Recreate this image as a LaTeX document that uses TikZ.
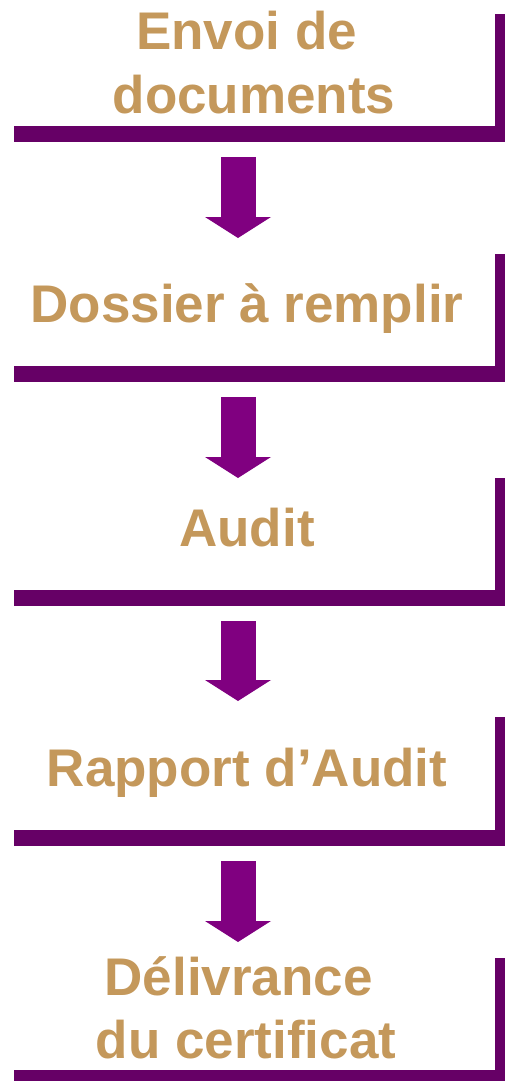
\documentclass[tikz,border=0pt]{standalone}
\usepackage{fontspec}
\setmainfont{Liberation Sans}
\usetikzlibrary{arrows.meta,positioning}

\definecolor{barpurple}{HTML}{660066}
\definecolor{arrowpurple}{HTML}{800080}
\definecolor{tan}{HTML}{C4985B}

\begin{document}
\begin{tikzpicture}[x=1pt, y=1pt]

    \tikzstyle{stage}=[minimum width=481pt, inner sep=0pt, outer sep=0pt];
    \tikzstyle{title}=[text=tan, font=\fontsize{53}{63}\selectfont\bfseries, align=center, inner sep=0pt];
    \tikzstyle{flow}=[draw=arrowpurple, line width=35pt, -{Triangle[width=66pt, length=21pt, line width=0pt]}];

    \useasboundingbox (0,0) rectangle (505,-1081);

    \node[stage, minimum height=112pt] (envoi) at (254.5,-70) {};
    \node[stage, minimum height=112pt] (dossier) at (254.5,-310) {};
    \node[stage, minimum height=112pt] (audit) at (254.5,-534) {};
    \node[stage, minimum height=113pt] (rapport) at (254.5,-773.5) {};
    \node[stage, minimum height=112pt] (delivrance) at (254.5,-1014) {};

    \fill[barpurple] (envoi.south west) rectangle ([shift={(10,-16)}]envoi.south east);
    \fill[barpurple] (envoi.north east) rectangle ([xshift=10pt]envoi.south east);
    \fill[barpurple] (dossier.south west) rectangle ([shift={(10,-16)}]dossier.south east);
    \fill[barpurple] (dossier.north east) rectangle ([xshift=10pt]dossier.south east);
    \fill[barpurple] (audit.south west) rectangle ([shift={(10,-16)}]audit.south east);
    \fill[barpurple] (audit.north east) rectangle ([xshift=10pt]audit.south east);
    \fill[barpurple] (rapport.south west) rectangle ([shift={(10,-16)}]rapport.south east);
    \fill[barpurple] (rapport.north east) rectangle ([xshift=10pt]rapport.south east);
    \fill[barpurple] (delivrance.south west) rectangle ([shift={(10,-16)}]delivrance.south east);
    \fill[barpurple] (delivrance.north east) rectangle ([xshift=10pt]delivrance.south east);

    \node[title, anchor=base] (envoiT) at (254,-113) {Envoi de\rule{0.278em}{0pt}\\documents};
    \node[title, anchor=base] (dossierT) at (247,-322) {Dossier à remplir};
    \node[title, anchor=base] (auditT) at (247,-546) {Audit};
    \node[title, anchor=base] (rapportT) at (247,-786) {Rapport d’Audit};
    \node[title, anchor=base] (delivranceT) at (246,-1058) {Délivrance\rule{0.278em}{0pt}\\du certificat};

    \draw[flow] ([xshift=-16.5pt, yshift=-31pt]envoi.south) -- ([xshift=-16.5pt, yshift=16pt]dossier.north);
    \draw[flow] ([xshift=-16.5pt, yshift=-31pt]dossier.south) -- ([xshift=-16.5pt]audit.north);
    \draw[flow] ([xshift=-16.5pt, yshift=-31pt]audit.south) -- ([xshift=-16.5pt, yshift=16pt]rapport.north);
    \draw[flow] ([xshift=-16.5pt, yshift=-31pt]rapport.south) -- ([xshift=-16.5pt, yshift=16pt]delivrance.north);
\end{tikzpicture}
\end{document}
